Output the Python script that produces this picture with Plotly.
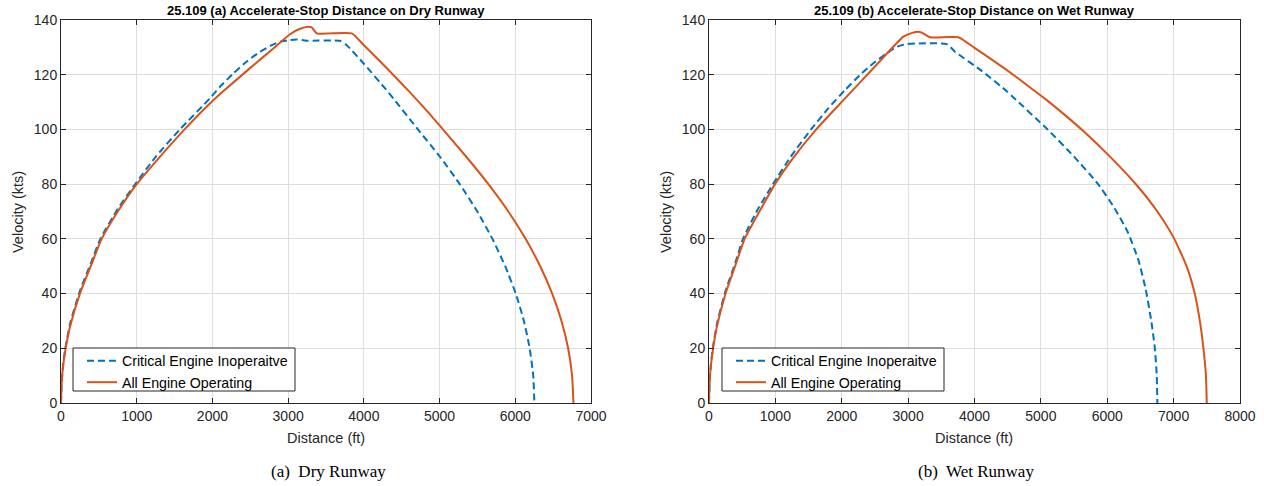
import plotly.graph_objects as go

# ---- Dry runway (25.109 a) ----
dry_cei_dist = [0, 10, 30, 60, 120, 250, 400, 520, 750, 980,
                1250, 1570, 1968, 2100, 2276, 2453, 2629, 2783, 2893, 3025,
                3113, 3245, 3685, 3774, 4000, 4280, 4390, 4714, 5006, 5267,
                5498, 5698, 5867, 6006, 6114, 6190, 6237, 6252]
dry_cei_vel = [0, 8, 14.5, 20.5, 29, 41, 51.5, 60, 71, 80,
               90, 100, 111.4, 115.6, 120.5, 124.8, 128.4, 130.8, 132.1, 132.7,
               132.9, 132.4, 132.4, 130.8, 124.0, 115.0, 111.3, 100, 90, 80,
               70, 60, 50, 40, 30, 20, 10, 0]

dry_aeo_dist = [0, 10, 30, 62, 120, 250, 400, 537, 750, 1000,
                1300, 1638, 1960, 2153, 2500, 2800, 3025, 3150, 3267, 3311,
                3378, 3840, 4000, 4200, 4400, 4600, 4800, 5014, 5347, 5645,
                5908, 6136, 6329, 6487, 6610, 6698, 6750, 6768]
dry_aeo_vel = [0, 8, 14, 20, 28, 40, 50.5, 60, 70, 80,
               89.8, 100.2, 109.3, 114.2, 122.5, 129.5, 134.8, 136.7, 137.5, 137.3,
               135.1, 135.1, 130.8, 125.3, 119.6, 113.8, 107.8, 101, 90.2, 80,
               70, 60, 50, 40, 30, 20, 10, 0]

# ---- Wet runway (25.109 b) ----
wet_cei_dist = [0, 10, 30, 60, 120, 250, 400, 512, 740, 964,
                1230, 1537, 1800, 2049, 2275, 2476, 2677, 2828, 2979, 3581,
                3707, 4104, 4485, 4586, 5101, 5490, 5850, 6100, 6310, 6470,
                6580, 6660, 6715, 6745, 6755]
wet_cei_vel = [0, 8, 14.5, 20.5, 29, 41, 51.5, 60, 71, 80,
               90, 100, 107.8, 114.4, 119.9, 124.2, 127.8, 130.2, 131.2, 131.2,
               128.4, 121.5, 114.0, 111.7, 100, 90.3, 80.4, 71.6, 62.4, 52.2,
               41.5, 30.5, 20.5, 10.5, 0]

wet_aeo_dist = [0, 10, 30, 62, 120, 250, 400, 537, 760, 994,
                1280, 1597, 2024, 2500, 2928, 3050, 3154, 3205, 3330, 3757,
                4000, 4300, 4600, 4888, 5088, 5350, 5640, 6060, 6445, 6760,
                7010, 7195, 7318, 7395, 7449, 7487, 7499]
wet_aeo_vel = [0, 8, 14, 20, 28, 40, 50.5, 60, 70, 80,
               90, 99.5, 110.7, 123, 133.9, 135.2, 135.7, 135.4, 133.7, 133.7,
               129.8, 124.9, 119.7, 114.4, 110.7, 105.5, 99.4, 89.6, 79.6, 69.8,
               60, 50, 40, 30, 20, 10, 0]

series_names = ["Critical Engine Inoperaitve", "All Engine Operating"]
titles = ["25.109 (a) Accelerate-Stop Distance on Dry Runway",
          "25.109 (b) Accelerate-Stop Distance on Wet Runway"]
captions = ["(a)  Dry Runway", "(b)  Wet Runway"]
x_axis_title = "Distance (ft)"
y_axis_title = "Velocity (kts)"

BLUE = "#0072BD"
RED = "#D95319"
AXC = "#262626"
FONT = "Liberation Sans, Arial, sans-serif"

W, H = 1264, 486
L1, R1 = 61, 591
L2, R2 = 709, 1240
TOP, BOT = 20, 403

fig = go.Figure()

panels = [
    (dry_cei_dist, dry_cei_vel, dry_aeo_dist, dry_aeo_vel, "x", "y", "legend"),
    (wet_cei_dist, wet_cei_vel, wet_aeo_dist, wet_aeo_vel, "x2", "y2", "legend2"),
]
for cd, cv, ad, av, xa, ya, lg in panels:
    fig.add_trace(go.Scatter(x=cd, y=cv, mode="lines", name=series_names[0],
                             line=dict(color=BLUE, width=2, dash="7px,4px",
                                       shape="spline", smoothing=0.5),
                             xaxis=xa, yaxis=ya, legend=lg))
    fig.add_trace(go.Scatter(x=ad, y=av, mode="lines", name=series_names[1],
                             line=dict(color=RED, width=2, shape="spline", smoothing=0.5),
                             xaxis=xa, yaxis=ya, legend=lg))

axis_common = dict(
    showline=True, linecolor=AXC, linewidth=1, mirror="ticks",
    ticks="inside", ticklen=5, tickcolor=AXC, tickwidth=1,
    showgrid=True, gridcolor="#dedede", gridwidth=1,
    zeroline=False, tickfont=dict(family=FONT, size=14, color=AXC),
    automargin=False,
)

legend_common = dict(
    xanchor="left", yanchor="top",
    bgcolor="rgba(0,0,0,0)", borderwidth=0,
    font=dict(family=FONT, size=14.2, color="black"),
    tracegroupgap=0, itemwidth=30,
)

# legend frames (boxes drawn behind the legend entries)
box_y0, box_y1 = 1 - 391 / H, 1 - 348 / H
shapes = []
for bx0, bx1 in [(73, 295), (722, 944)]:
    shapes.append(dict(type="rect", xref="paper", yref="paper",
                       x0=bx0 / W, x1=bx1 / W, y0=box_y0, y1=box_y1,
                       fillcolor="white", line=dict(color=AXC, width=1), layer="above"))

ydom = [1 - BOT / H, 1 - TOP / H]
fig.update_layout(
    width=W, height=H,
    margin=dict(l=0, r=0, t=0, b=0, pad=0, autoexpand=False),
    paper_bgcolor="white", plot_bgcolor="white",
    xaxis=dict(domain=[L1 / W, R1 / W], range=[0, 7000], dtick=1000, anchor="y", **axis_common),
    yaxis=dict(domain=ydom, range=[0, 140], dtick=20, anchor="x", **axis_common),
    xaxis2=dict(domain=[L2 / W, R2 / W], range=[0, 8000], dtick=1000, anchor="y2", **axis_common),
    yaxis2=dict(domain=ydom, range=[0, 140], dtick=20, anchor="x2", **axis_common),
    legend=dict(x=82 / W, y=1 - 345 / H, **legend_common),
    legend2=dict(x=731 / W, y=1 - 345 / H, **legend_common),
    showlegend=True,
    shapes=shapes,
)

annotations = []
for (l, r), title, cap in zip([(L1, R1), (L2, R2)], titles, captions):
    cx = (l + r) / 2 / W
    annotations.append(dict(text=f"<b>{title}</b>", x=cx, y=1 - 11 / H, xref="paper", yref="paper",
                            showarrow=False, xanchor="center", yanchor="middle",
                            font=dict(family=FONT, size=13, color="black")))
    annotations.append(dict(text=x_axis_title, x=cx, y=1 - 438 / H, xref="paper", yref="paper",
                            showarrow=False, xanchor="center", yanchor="middle",
                            font=dict(family=FONT, size=14.5, color=AXC)))
    annotations.append(dict(text=y_axis_title, x=(l - 43) / W, y=1 - 212 / H, xref="paper", yref="paper",
                            showarrow=False, xanchor="center", yanchor="middle", textangle=-90,
                            font=dict(family=FONT, size=14.5, color=AXC)))
    annotations.append(dict(text=cap, x=(l + r) / 2 / W + 2 / W, y=1 - 471 / H, xref="paper", yref="paper",
                            showarrow=False, xanchor="center", yanchor="middle",
                            font=dict(family="Liberation Serif, Times New Roman, serif", size=17, color="black")))
fig.update_layout(annotations=annotations)

fig.write_html("out.html")
